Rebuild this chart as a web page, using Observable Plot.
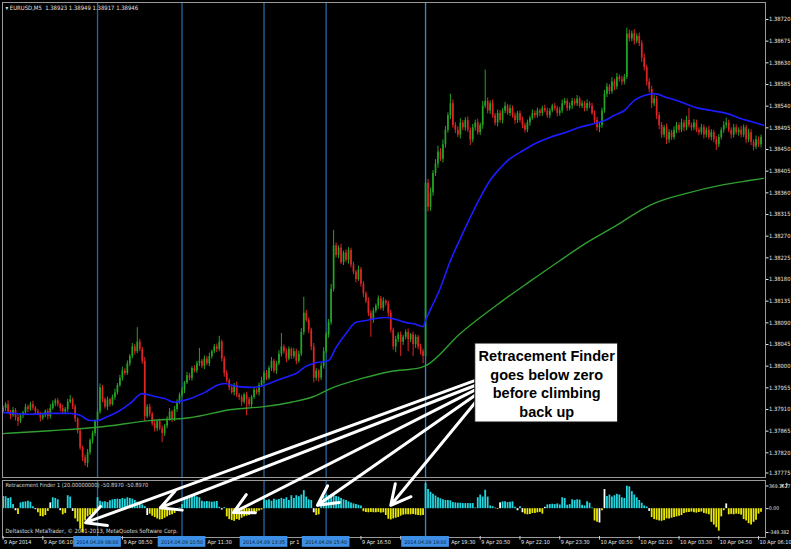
<!DOCTYPE html>
<html><head><meta charset="utf-8">
<script src="https://cdn.jsdelivr.net/npm/d3@7"></script>
<script src="https://cdn.jsdelivr.net/npm/@observablehq/plot@0.6"></script>
<style>
html,body{margin:0;padding:0;background:#000;}
#c{position:relative;width:791px;height:549px;background:#000;overflow:hidden;}
#c svg{position:absolute;left:0;overflow:visible;}
</style></head><body><div id="c"></div>
<script>
// ---------- DATA ----------
const titleText = "\u25BE EURUSD,M5  1.38923 1.38949 1.38917 1.38946";
const indTitle = "Retracement Finder 1 (20.00000000) -50.8970 -50.8970";
const footerText = "Deltastock MetaTrader, \u00A9 2001-2013, MetaQuotes Software Corp.";

const firstOpen = 1.37905;
const close = [
1.37912,1.37920,1.37905,1.37897,1.37908,1.37893,1.37885,1.37897,1.37903,1.37915,
1.37910,1.37920,1.37913,1.37905,1.37900,1.37892,1.37897,1.37906,1.37895,1.37912,
1.37922,1.37928,1.37920,1.37912,1.37905,1.37910,1.37925,1.37930,1.37915,1.37890,
1.37865,1.37830,1.37810,1.37798,1.37820,1.37845,1.37860,1.37885,1.37905,1.37955,
1.37930,1.37915,1.37930,1.37920,1.37935,1.37945,1.37960,1.37975,1.37990,1.37985,
1.38005,1.38020,1.38040,1.38030,1.38050,1.38035,1.38010,1.37895,1.37915,1.37900,
1.37880,1.37870,1.37885,1.37870,1.37860,1.37875,1.37890,1.37905,1.37890,1.37910,
1.37925,1.37940,1.37950,1.37965,1.37980,1.37975,1.37995,1.37990,1.38005,1.38010,
1.38000,1.38015,1.38005,1.38020,1.38030,1.38040,1.38035,1.38050,1.38015,1.37985,
1.37970,1.37955,1.37945,1.37960,1.37940,1.37935,1.37925,1.37940,1.37930,1.37920,
1.37935,1.37950,1.37945,1.37960,1.37970,1.37985,1.37975,1.37995,1.38010,1.37990,
1.38005,1.38025,1.38040,1.38030,1.38015,1.38035,1.38020,1.38030,1.38010,1.38025,
1.38070,1.38110,1.38095,1.38075,1.38040,1.37975,1.37990,1.37975,1.38000,1.38030,
1.38065,1.38090,1.38160,1.38250,1.38230,1.38245,1.38215,1.38235,1.38220,1.38240,
1.38210,1.38195,1.38180,1.38200,1.38170,1.38150,1.38135,1.38110,1.38095,1.38115,
1.38125,1.38140,1.38120,1.38135,1.38130,1.38110,1.38075,1.38040,1.38055,1.38065,
1.38050,1.38060,1.38070,1.38055,1.38065,1.38045,1.38060,1.38040,1.38030,1.38020,
1.38380,1.38330,1.38360,1.38400,1.38420,1.38445,1.38430,1.38460,1.38490,1.38520,
1.38545,1.38500,1.38490,1.38480,1.38505,1.38495,1.38510,1.38490,1.38470,1.38495,
1.38505,1.38485,1.38500,1.38540,1.38550,1.38530,1.38545,1.38520,1.38505,1.38525,
1.38510,1.38530,1.38540,1.38525,1.38535,1.38520,1.38510,1.38525,1.38510,1.38500,
1.38490,1.38505,1.38515,1.38525,1.38520,1.38530,1.38525,1.38535,1.38530,1.38520,
1.38530,1.38540,1.38535,1.38525,1.38530,1.38545,1.38550,1.38535,1.38540,1.38550,
1.38545,1.38555,1.38540,1.38545,1.38535,1.38545,1.38540,1.38525,1.38510,1.38495,
1.38500,1.38530,1.38565,1.38580,1.38570,1.38590,1.38580,1.38600,1.38595,1.38590,
1.38600,1.38690,1.38680,1.38690,1.38675,1.38685,1.38670,1.38640,1.38620,1.38590,
1.38575,1.38545,1.38555,1.38520,1.38500,1.38480,1.38495,1.38470,1.38485,1.38475,
1.38490,1.38500,1.38490,1.38505,1.38495,1.38510,1.38500,1.38495,1.38505,1.38490,
1.38485,1.38495,1.38480,1.38490,1.38475,1.38485,1.38470,1.38460,1.38475,1.38490,
1.38500,1.38505,1.38490,1.38480,1.38495,1.38485,1.38490,1.38480,1.38495,1.38470,
1.38485,1.38465,1.38455,1.38470,1.38460,1.38475];
// wick lengths above / below the body, in points (0.00001)
const wickUp = [
5,4,8,3,6,4,7,5,3,6, 4,5,7,3,5,4,6,3,5,8, 6,4,5,3,7,4,6,9,4,5, 3,6,4,5,7,4,5,3,6,8,
5,4,6,3,5,7,4,6,8,5, 6,4,7,5,30,6,4,8,5,6, 4,7,3,5,6,4,5,7,3,6, 5,4,6,3,7,5,4,6,5,27,
4,6,5,7,3,5,6,12,4,5, 6,3,5,4,7,3,5,4,6,5, 4,6,3,5,7,4,6,5,8,4, 5,7,28,4,6,5,3,7,5,6,
8,33,6,5,4,7,5,3,6,8, 5,7,10,32,6,5,8,4,7,6, 5,6,4,8,5,6,4,7,5,6, 4,6,5,7,3,5,6,4,7,5,
6,4,5,7,3,6,5,4,6,5, 90,8,10,6,9,12,7,10,8,6, 20,8,6,7,9,5,6,8,5,7, 6,8,5,10,65,7,6,8,5,7,
6,5,8,4,7,5,6,4,5,7, 5,6,4,7,5,6,4,5,7,6, 5,4,6,5,7,8,6,5,7,6, 5,7,4,6,5,8,4,6,5,7,
5,6,8,7,5,9,6,8,5,7, 6,12,8,6,9,5,7,6,8,5, 7,6,8,5,7,6,5,8,6,5, 7,6,5,8,6,9,25,5,7,6,
5,7,6,5,8,6,5,7,6,5, 8,10,6,5,7,6,5,8,6,5, 7,6,5,8,6,5];
const wickDn = [
4,6,5,8,3,7,10,4,6,5, 7,4,5,6,3,8,5,4,7,5, 4,6,5,7,4,5,6,3,5,7, 6,5,8,6,9,5,7,6,4,5,
6,4,7,5,3,6,5,4,6,5, 4,6,5,7,4,5,6,10,4,6, 5,7,6,4,19,6,5,4,7,5, 6,4,5,7,3,5,6,4,5,6,
5,7,4,6,5,4,7,5,6,8, 5,6,4,7,5,6,8,4,33,5, 6,4,5,7,3,6,5,4,6,5, 7,4,6,5,8,4,6,5,7,4,
5,6,4,7,8,10,6,8,5,6, 4,7,5,6,5,7,4,6,5,8, 6,5,7,4,6,8,5,7,35,6, 5,7,4,6,5,8,6,7,12,6,
30,7,5,25,6,25,8,6,7,15, 15,10,8,7,6,9,5,8,7,6, 8,6,7,5,8,6,7,5,12,6, 7,5,6,8,5,6,7,5,6,8,
5,7,6,4,6,5,8,6,5,7, 6,5,7,4,6,5,7,6,4,5, 6,4,5,7,6,5,4,6,5,7, 5,6,4,5,7,6,5,4,8,7,
10,6,5,7,6,5,8,6,5,7, 6,5,7,6,8,5,6,9,7,8, 7,10,6,8,9,7,6,10,7,6, 5,7,6,5,8,6,5,7,6,5,
6,5,8,6,5,7,6,12,6,5, 7,6,5,8,6,5,7,6,5,8, 6,7,8,5,6,7];

// moving averages, read at sample bars
const blueBars = [0,11,19,27,31,35,38,41,47,51,56,61,65,69,73,81,86,89,94,100,105,110,116,118,122,125,131,134,138,142,146,150,154,158,162,166,169,170,176,180,184,188,192,196,200,204,208,214,220,226,232,238,242,246,250,254,258,262,267,273,279,285,291,297,301,306];
const blueMA = [1.37904,1.37900,1.37902,1.37902,1.37898,1.37887,1.37887,1.37893,1.37908,1.37922,1.37943,1.37937,1.37933,1.37925,1.37929,1.37945,1.37960,1.37964,1.37958,1.37956,1.37960,1.37970,1.37981,1.37985,1.38000,1.38006,1.38012,1.38039,1.38068,1.38091,1.38095,1.38099,1.38101,1.38097,1.38091,1.38087,1.38082,1.38095,1.38163,1.38219,1.38265,1.38309,1.38350,1.38386,1.38411,1.38431,1.38444,1.38462,1.38475,1.38485,1.38496,1.38504,1.38510,1.38521,1.38531,1.38552,1.38562,1.38566,1.38558,1.38548,1.38537,1.38531,1.38525,1.38514,1.38508,1.38500];
const greenBars = [0,19,38,59,75,92,105,116,125,132,144,156,168,170,184,200,212,224,235,248,255,262,275,289,301,306];
const greenMA = [1.37860,1.37866,1.37873,1.37887,1.37893,1.37910,1.37916,1.37925,1.37937,1.37954,1.37974,1.37989,1.37997,1.38001,1.38068,1.38132,1.38176,1.38219,1.38257,1.38296,1.38319,1.38338,1.38359,1.38376,1.38386,1.38390];

// Retracement Finder histogram
const hist = [
180,175,150,160,60,-30,-85,85,95,100, 110,95,30,-15,-60,-115,-120,-100,-40,85,
160,150,130,-30,-90,-70,190,170,-40,-150, -195,-300,-349.382,-180,-120,-95,-80,-60,160,110,
95,100,90,115,130,135,140,135,150,140, 160,150,140,120,95,70,55,30,-100,-80,
-110,-130,-150,-165,-160,-140,-120,-100,-90,-70, -30,10,60,150,180,190,195,185,170,160,
110,100,105,100,95,100,105,20,-20,15, -120,-160,-175,-185,-160,-170,-140,-120,-110,-100,
-80,-70,-50,-35,-20,145,120,130,110,140, 125,135,150,140,160,120,190,150,190,175,
200,265,170,130,120,-60,-100,-90,140,180, 200,190,210,195,180,170,150,130,120,100,
85,70,60,50,40,-45,-55,-60,-55,-60, -60,-55,-65,-60,-100,-155,-165,-150,-140,-130,
-110,-95,-90,-90,-90,-85,-95,-100,-105,-100, 369.1527,280,240,210,185,160,145,130,120,120,
115,90,85,80,80,75,75,75,75,75, 10,160,200,170,270,170,40,30,10,-10,
85,100,100,90,95,100,20,-30,30,-60, -80,-90,-85,-70,-70,-60,-55,-80,20,55,
60,65,60,70,55,160,150,50,60,130, 120,130,125,50,40,100,80,10,-180,-200,
-210,-30,280,180,200,170,190,210,200,160, 150,330,320,250,200,160,120,80,40,25,
-40,-130,-160,-170,-180,-185,-175,-150,-150,-140, -130,-120,-110,-100,-70,-60,-55,-50,-60,-65,
-55,-50,-70,-80,-90,-200,-240,-280,-330,-120, -30,70,-90,-85,-90,-80,-85,-95,-160,-180,
-220,-240,-200,-170,-80,-50.897];
const whiteBars = [5,13,19,23,28,58,88,125,200,207,209,218,240,242,260,291];

// axes
const priceTicks = [1.38720,1.38675,1.38630,1.38585,1.38540,1.38495,1.38450,1.38405,1.38360,1.38315,1.38270,1.38225,1.38180,1.38135,1.38090,1.38045,1.38000,1.37955,1.37910,1.37865,1.37820];
const priceBottomTick = [1.37775];
const indTopTick = [369.1527];
const indTicks = [0, -349.382];
const timeTickBars = [0,16,32,48,64,80,96,112,128,144,160,176,192,208,224,240,256,272,288,304];
// visible (parts of) time labels; the others are hidden under the highlighted separator dates
const timeLabelBars = [0,16,48,81.9,114.9,144,179.9,192,208,224,240,256,272,288,304];
const timeLabels = ["9 Apr 2014","9 Apr 06:10","9 Apr 08:50","Apr 11:30","pr 1","9 Apr 16:50","Apr 19:30","9 Apr 20:50","9 Apr 22:10","9 Apr 23:30","10 Apr 00:50","10 Apr 02:10","10 Apr 03:30","10 Apr 04:50","10 Apr 06:10"];
const sepBars = [38,72,105,130];
const lastSepBar = [170];
const sepBarsAll = [38,72,105,130,170];
const sepLabels = ["2014.04.09 08:00","2014.04.09 10:50","2014.04.09 13:35","2014.04.09 15:40","2014.04.09 19:00"];

// callout annotation (bar index, price)
const calloutLines = "Retracement Finder\ngoes below zero\nbefore climbing\nback up";
const calloutBars = [190, 247.5];
const calloutPrice = [1.37883, 1.38047];
const arrowFromBar = [192, 192, 192, 192, 192];
const arrowFromPrice = [1.37974, 1.37964, 1.37956, 1.37947, 1.37937];
const arrowToBar = [33.2, 63.3, 92.7, 126.5, 156.0];
const arrowToPrice = [1.37675, 1.37706, 1.37696, 1.37711, 1.37711];

// ---------- CHART ----------
const FONT = '"Liberation Sans Narrow","DejaVu Sans Condensed","Liberation Sans",sans-serif';
const ctx = document.createElement("canvas").getContext("2d");
function fit(sample, target, max = 8) {
  ctx.font = "100px " + FONT;
  return Math.min(max, 100 * target / ctx.measureText(sample).width);
}
const FS_AXIS = fit("1.38720", 21.5);
const FS_IND = fit("369.1527", 21.5);
const FS_TITLE = fit(titleText, 133);
const FS_INDT = fit(indTitle, 143);
const FS_FOOT = fit(footerText, 173);
const FS_TIME = fit("9 Apr 06:10", 29);
const FS_BOX = fit("2014.04.09 08:00", 42);

const BULL = "#22a522", BEAR = "#e02424";
const SEP = "#2766a0", SEP_LAST = "#2f8ae6";
const XDOM = [-0.24, 306.8];

const bars = close.map((c, i) => {
  const o = i === 0 ? firstOpen : close[i - 1];
  return {i, o, c, h: Math.max(o, c) + wickUp[i] * 1e-5, l: Math.min(o, c) - wickDn[i] * 1e-5,
          col: c >= o ? BULL : BEAR};
});
const histData = hist.map((v, i) => ({i, v, col: whiteBars.includes(i) ? "#ffffff" : (v >= 0 ? "#22d6e0" : "#e8e800")}));
const arrows = arrowFromBar.map((b, k) => ({x1: b, y1: arrowFromPrice[k], x2: arrowToBar[k], y2: arrowToPrice[k]}));

const root = document.getElementById("c");
const baseStyle = {background: "transparent", color: "#e6e6e6", fontFamily: FONT, fontSize: "7px"};
const indFmt = d => d === 0 ? "0.00" : String(d);
const priceFmt = d => d.toFixed(5);

// indicator panel
const ind = Plot.plot({
  width: 791, height: 57, marginLeft: 2, marginRight: 26, marginTop: 0, marginBottom: 0,
  x: {domain: XDOM, axis: null},
  y: {domain: [-349.382, 369.1527], range: [52, 3], axis: null},
  style: baseStyle,
  marks: [
    Plot.ruleX(sepBars, {x: d => d, stroke: SEP, strokeWidth: 1.3}),
    Plot.ruleX(lastSepBar, {x: d => d, stroke: SEP_LAST, strokeWidth: 1.3}),
    Plot.ruleX(histData, {x: "i", y1: 0, y2: "v", stroke: "col", strokeWidth: 1.8}),
    Plot.frame({stroke: "#9a9a9a"}),
    Plot.axisY(indTopTick, {anchor: "right", tickSize: 2.5, tickPadding: 1, dy: 2.5, fontSize: FS_IND, tickFormat: indFmt}),
    Plot.axisY(indTicks, {anchor: "right", tickSize: 2.5, tickPadding: 1, fontSize: FS_IND, tickFormat: indFmt}),
    Plot.text([indTitle], {frameAnchor: "top-left", dx: 3, dy: 5, lineAnchor: "middle", textAnchor: "start", fill: "#d8d8d8", fontSize: FS_INDT}),
    Plot.text([footerText], {frameAnchor: "bottom-left", dx: 3, dy: -6, lineAnchor: "middle", textAnchor: "start", fill: "#d8d8d8", fontSize: FS_FOOT})
  ]
});
ind.style.top = "480px";
root.appendChild(ind);

// time axis strip
const strip = Plot.plot({
  width: 791, height: 12, marginLeft: 2, marginRight: 26, marginTop: 0, marginBottom: 0,
  x: {domain: XDOM, axis: null},
  y: {domain: [0, 1], range: [12, 0], axis: null},
  style: baseStyle,
  marks: [
    Plot.ruleX(timeTickBars, {x: d => d, y1: 1, y2: 0.7, stroke: "#cfcfcf"}),
    Plot.text(timeLabels, {x: (d, k) => timeLabelBars[k], y: 0.55, text: d => d, textAnchor: "start", dx: 1, fill: "#e8e8e8", fontSize: FS_TIME}),
    Plot.rect(sepBarsAll, {x1: d => d - 9.6, x2: d => d + 9.6, y1: 0.1, y2: 1, fill: "#3d8fe6"}),
    Plot.text(sepLabels, {x: (d, k) => sepBarsAll[k], y: 0.55, text: d => d, fill: "#0c1c30", fontSize: FS_BOX})
  ]
});
strip.style.top = "536px";
root.appendChild(strip);

// main price panel (on top, transparent, carries the callout)
const main = Plot.plot({
  width: 791, height: 549, marginLeft: 2, marginRight: 26, marginTop: 2, marginBottom: 72,
  x: {domain: XDOM, axis: null},
  y: {domain: [1.37775, 1.38720], range: [474, 19], axis: null},
  style: baseStyle,
  marks: [
    Plot.ruleX(sepBars, {x: d => d, stroke: SEP, strokeWidth: 1.3}),
    Plot.ruleX(lastSepBar, {x: d => d, stroke: SEP_LAST, strokeWidth: 1.3}),
    Plot.ruleX(bars, {x: "i", y1: "l", y2: "h", stroke: "col", strokeWidth: 1}),
    Plot.ruleX(bars, {x: "i", y1: "o", y2: "c", stroke: "col", strokeWidth: 1.7}),
    Plot.line(greenMA, {x: greenBars, y: d => d, stroke: "#2f9e2f", strokeWidth: 1.4, curve: "monotone-x"}),
    Plot.line(blueMA, {x: blueBars, y: d => d, stroke: "#1c1cff", strokeWidth: 1.6, curve: "monotone-x"}),
    Plot.frame({stroke: "#9a9a9a"}),
    Plot.axisY(priceTicks, {anchor: "right", tickSize: 2.5, tickPadding: 1, fontSize: FS_AXIS, tickFormat: priceFmt}),
    Plot.axisY(priceBottomTick, {anchor: "right", tickSize: 2.5, tickPadding: 1, dy: -1.5, fontSize: FS_AXIS, tickFormat: priceFmt}),
    Plot.text([titleText], {frameAnchor: "top-left", dx: 3, dy: 6, lineAnchor: "middle", textAnchor: "start", fill: "#e0e0e0", fontSize: FS_TITLE}),
    Plot.arrow(arrows, {x1: "x1", y1: "y1", x2: "x2", y2: "y2", stroke: "#ffffff", strokeWidth: 3, headLength: 11, headAngle: 55}),
    Plot.rect([0], {x1: calloutBars[0], x2: calloutBars[1], y1: calloutPrice[0], y2: calloutPrice[1], fill: "#ffffff", stroke: "#111", strokeWidth: 1}),
    Plot.text([calloutLines], {x: (calloutBars[0] + calloutBars[1]) / 2, y: (calloutPrice[0] + calloutPrice[1]) / 2,
      fill: "#000", fontSize: 14.5, fontWeight: "bold", fontFamily: "Liberation Sans, Arial, sans-serif", lineHeight: 1.29})
  ]
});
main.style.top = "0px";
root.appendChild(main);
</script></body></html>
